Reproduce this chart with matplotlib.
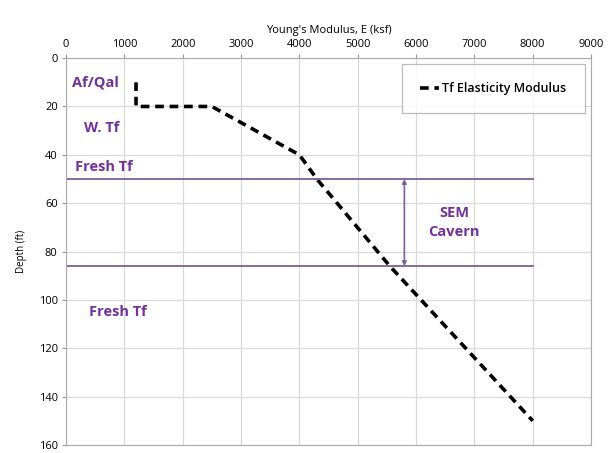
import numpy as np
from matplotlib import pyplot as plt

# Young's modulus profile
modulus = [1200, 1200, 2500, 4000, 4300, 5550, 8000]
depth = [10, 20, 20, 40, 50, 86, 150]

layer_lines = [50, 86]
line_x = [0, 8000]
cavern_x = 5800

labels = ["Af/Qal", "W. Tf", "Fresh Tf", "Fresh Tf"]
label_x = [100, 300, 150, 400]
label_y = [10, 29, 45, 105]

purple = "#7030A0"
line_purple = "#7B5F96"

plt.rcParams['font.family'] = ['Open Sans', 'DejaVu Sans']

fig = plt.figure(figsize=(6.08, 4.53), dpi=100)
ax = fig.add_axes([0.1086, 0.0177, 0.8635, 0.854])

ax.plot(modulus, depth, color="black", lw=2.6, dashes=(2.4, 1.6),
        label="Tf Elasticity Modulus")

for d in layer_lines:
  ax.plot(line_x, [d, d], color=line_purple, lw=1.3)

ax.annotate("", xy=(cavern_x, layer_lines[0]), xytext=(cavern_x, layer_lines[1]),
            arrowprops=dict(arrowstyle="<|-|>", color=line_purple, lw=1.2,
                            mutation_scale=6, shrinkA=0, shrinkB=0))

ax.text(6650, 64, "SEM", color=purple, fontsize=10.5, fontweight="bold",
        ha="center", va="center")
ax.text(6650, 72, "Cavern", color=purple, fontsize=10.5, fontweight="bold",
        ha="center", va="center")
for t, x, y in zip(labels, label_x, label_y):
  ax.text(x, y, t, color=purple, fontsize=10.5, fontweight="bold",
          ha="left", va="center")

ax.set_xlim(0, 9000)
ax.set_ylim(160, 0)
ax.set_xticks(np.arange(0, 9001, 1000))
ax.set_yticks(np.arange(0, 161, 20))
ax.xaxis.tick_top()
ax.xaxis.set_label_position("top")
ax.set_xlabel("Young's Modulus, E (ksf)", fontsize=8, labelpad=4)
ax.set_ylabel("Depth (ft)", fontsize=7, labelpad=8)
ax.tick_params(labelsize=8, length=3, color="#999999", pad=3)
ax.grid(True, color="#d9d9d9", lw=0.9)
ax.set_axisbelow(True)
for s in ax.spines.values():
  s.set_color("#aaaaaa")

leg = ax.legend(loc="upper right", prop={"size": 9, "weight": "semibold"},
                frameon=True, fancybox=False, borderpad=1.45, handlelength=1.5,
                handletextpad=0.3, borderaxespad=0.3,
                bbox_to_anchor=(0.995, 0.995))
leg.get_frame().set_edgecolor("#aaaaaa")
leg.get_frame().set_linewidth(0.9)

fig.savefig("out.png", dpi=100)
